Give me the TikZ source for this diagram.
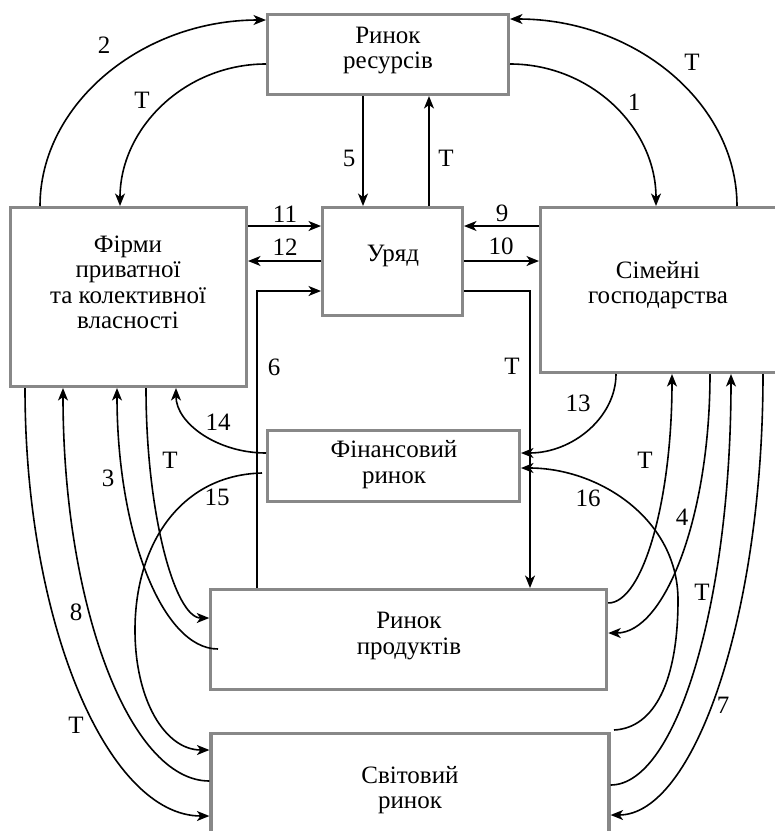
\documentclass[tikz,border=0pt]{standalone}
\usepackage{fontspec}
\setmainfont{Liberation Serif}
\usetikzlibrary{arrows.meta}
\definecolor{boxgray}{RGB}{136,136,136}
\begin{document}
\begin{tikzpicture}[x=1pt,y=-1pt,
 box/.style={draw=boxgray,line width=3.2pt,inner sep=0pt,fill=white},
 txt/.style={font=\fontsize{25}{25}\selectfont, inner sep=0pt, anchor=base},
 lab/.style={font=\fontsize{25}{25}\selectfont, inner sep=0pt},
 conn/.style={line width=1.6pt, draw=black},
 arr/.style={conn, -{Stealth[length=12.5pt,width=10pt,inset=3.5pt]}}]
\useasboundingbox (0,0) rectangle (775,831);
% boxes
\node[box, minimum width=240.8pt, minimum height=79.8pt] (rr) at (388,54.5) {};
\node[box, minimum width=235.8pt, minimum height=178.8pt] (firm) at (128.5,297) {};
\node[box, minimum width=139.8pt, minimum height=107.8pt] (gov) at (392.5,261.5) {};
\node[box, minimum width=235.8pt, minimum height=164.8pt] (home) at (658.5,290) {};
\node[box, minimum width=251.8pt, minimum height=70.8pt] (fin) at (393.5,466) {};
\node[box, minimum width=395.8pt, minimum height=99.8pt] (prod) at (408.75,639.5) {};
\node[box, minimum width=398pt, minimum height=109.8pt] (world) at (410,788.5) {};
% texts
\node[txt] (rr1) at (388,43) {Ринок};
\node[txt] (rr2) at (388,68) {ресурсів};
\node[txt] (fi1) at (128,252) {Фірми};
\node[txt] (fi2) at (128,277) {приватної};
\node[txt] (fi3) at (128,303) {та колективної};
\node[txt] (fi4) at (128,328) {власності};
\node[txt] (go1) at (393,261) {Уряд};
\node[txt] (ho1) at (658,278) {Сімейні};
\node[txt] (ho2) at (658,303) {господарства};
\node[txt] (fn1) at (394,457) {Фінансовий};
\node[txt] (fn2) at (394,483) {ринок};
\node[txt] (pr1) at (409,628) {Ринок};
\node[txt] (pr2) at (409,654) {продуктів};
\node[txt] (wo1) at (410,783) {Світовий};
\node[txt] (wo2) at (410,808) {ринок};
% helper coordinates
\coordinate (f15) at (262,473);
\coordinate (p3) at (218,649);
\coordinate (p16) at (614,730);
% connectors
\draw[arr] (firm.north -| 40,0) .. controls (40,104) and (142,20) .. (rr.west |- 0,20);
\draw[arr] (rr.west |- 0,64) .. controls (185,64) and (120,128) .. (firm.north -| 120,0);
\draw[arr] (rr.east |- 0,64) .. controls (591,64) and (656,128) .. (home.north -| 656,0);
\draw[arr] (home.north -| 737,0) .. controls (737,103) and (635,19) .. (rr.east |- 0,19);
\draw[arr] (rr.south -| 363,0) -- (gov.north -| 363,0);
\draw[arr] (gov.north -| 429,0) -- (rr.south -| 429,0);
\draw[arr] (firm.east |- 0,226) -- (gov.west |- 0,226);
\draw[arr] (gov.west |- 0,261) -- (firm.east |- 0,261);
\draw[arr] (home.west |- 0,226) -- (gov.east |- 0,226);
\draw[arr] (gov.east |- 0,261) -- (home.west |- 0,261);
\draw[arr] (prod.north -| 257,0) |- (gov.west |- 0,291);
\draw[arr] (gov.east |- 0,291) -| (prod.north -| 530,0);
\draw[arr] (fin.west |- 0,453) .. controls (217,453) and (176,423) .. (firm.south -| 176,0);
\draw[arr] (f15) .. controls (180,475) and (135,545) .. (135,630) .. controls (135,700) and (165,750) .. (world.west |- 0,750);
\draw[arr] (p3) .. controls (162,649) and (117,532) .. (firm.south -| 117,0);
\draw[arr] (firm.south -| 146,0) .. controls (146,514) and (175,618) .. (prod.west |- 0,618);
\draw[arr] (world.west |- 0,781) .. controls (129,781) and (63,604) .. (firm.south -| 63,0);
\draw[arr] (firm.south -| 25,0) .. controls (25,624) and (108,816) .. (world.west |- 0,816);
\draw[arr] (home.south -| 616,0) .. controls (616,417) and (573,453) .. (fin.east |- 0,453);
\draw[arr] (p16) .. controls (655,728) and (678,680) .. (678,600) .. controls (678,520) and (600,468) .. (fin.east |- 0,468);
\draw[arr] (prod.east |- 0,603) .. controls (643,603) and (672,500) .. (home.south -| 672,0);
\draw[arr] (home.south -| 710,0) .. controls (710,516) and (665,633) .. (prod.east |- 0,633);
\draw[arr] (world.east |- 0,785) .. controls (677,785) and (731,600) .. (home.south -| 731,0);
\draw[arr] (home.south -| 763,0) .. controls (763,616) and (694,815) .. (world.east |- 0,815);
% labels
\node[lab] (l2) at (104,45) {2};
\node[lab] (lt1) at (142,100) {Т};
\node[lab] (l5) at (349,158) {5};
\node[lab] (lt2) at (446,158) {Т};
\node[lab] (l1) at (634,102) {1};
\node[lab] (lt3) at (692,62) {Т};
\node[lab] (l11) at (285,214) {11};
\node[lab] (l12) at (285,247) {12};
\node[lab] (l9) at (502,213) {9};
\node[lab] (l10) at (501,246) {10};
\node[lab] (l6) at (274,367) {6};
\node[lab] (lt4) at (512,366) {Т};
\node[lab] (l14) at (218,422) {14};
\node[lab] (l15) at (217,497) {15};
\node[lab] (l3) at (108,478) {3};
\node[lab] (lt5) at (170,460) {Т};
\node[lab] (l8) at (76,612) {8};
\node[lab] (lt6) at (76,725) {Т};
\node[lab] (l13) at (578,403) {13};
\node[lab] (l16) at (588,498) {16};
\node[lab] (lt7) at (645,460) {Т};
\node[lab] (l4) at (682,517) {4};
\node[lab] (lt8) at (702,592) {Т};
\node[lab] (l7) at (723,705) {7};
\end{tikzpicture}
\end{document}
